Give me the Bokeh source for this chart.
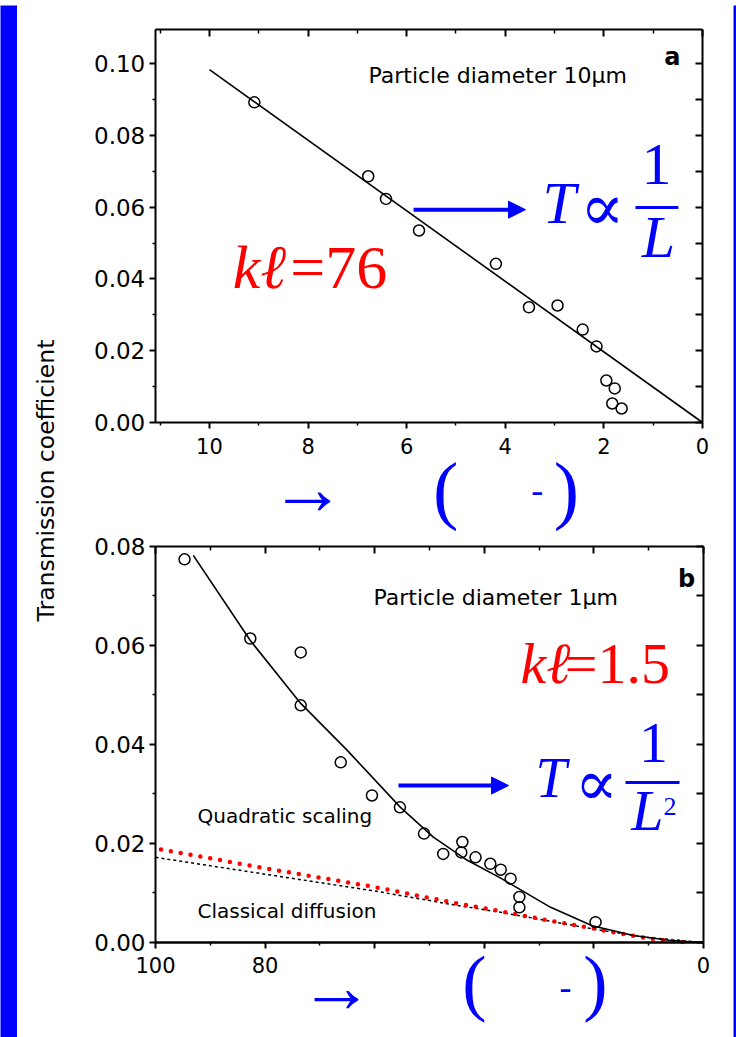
import math

from bokeh.plotting import figure
from bokeh.models import (Range1d, LinearAxis, FixedTicker, NumeralTickFormatter,
                          Label, Arrow, NormalHead)
from bokeh.layouts import row, column
from bokeh.embed import file_html
from bokeh.resources import INLINE

BLUE = "#0000ff"
RED = "#ff0000"
SANS = "DejaVu Sans"
SERIF = "Liberation Serif"
MATH = "DejaVu Serif"

# ---- panel (a): particle diameter 10 um ----
a_x = [9.09, 6.78, 6.42, 5.75, 4.19, 3.52, 2.94, 2.43, 2.15, 1.95, 1.78, 1.83, 1.64]
a_T = [0.0892, 0.0686, 0.0623, 0.0535, 0.0442, 0.0321, 0.0326, 0.0259, 0.0212,
       0.0117, 0.0095, 0.0053, 0.0039]
a_fit_x = [10.0, 0.0]
a_fit_T = [0.0983, 0.0]

a_xticks = [0, 2, 4, 6, 8, 10]
a_xminor = [1, 3, 5, 7, 9, 11]
a_yticks = [0.0, 0.02, 0.04, 0.06, 0.08, 0.10]
a_yminor = [0.01, 0.03, 0.05, 0.07, 0.09]
a_yright = [0.0, 0.01, 0.02, 0.03, 0.04, 0.05, 0.06, 0.07, 0.08, 0.09, 0.10]
a_xmax, a_ymax = 11.1, 0.1095

# ---- panel (b): particle diameter 1 um ----
b_x = [94.7, 82.7, 73.5, 73.5, 66.2, 60.5, 55.4, 51.0, 47.5, 44.0, 44.2, 41.6,
       38.9, 37.0, 35.2, 33.6, 33.6, 19.7]
b_T = [0.0774, 0.0614, 0.0586, 0.0479, 0.0364, 0.0297, 0.0273, 0.0220, 0.0179,
       0.0203, 0.0182, 0.0172, 0.0159, 0.0147, 0.0129, 0.0092, 0.0071, 0.0041]
b_fit_x = [93.1, 82.7, 73.5, 65.0, 55.3, 49.3, 43.1, 37.0, 27.9, 20.3, 12.8, 6.0, 0.0]
b_fit_T = [0.0782, 0.0610, 0.0483, 0.0388, 0.0273, 0.0213, 0.0166, 0.0130, 0.0071,
           0.0034, 0.0014, 0.0004, 0.0]
# classical diffusion (dashed)
b_diff_x = [100, 80, 60, 45, 37, 28, 20, 10, 0]
b_diff_T = [0.0172, 0.0138, 0.0104, 0.0075, 0.0061, 0.0043, 0.0027, 0.0010, 0.0]
# red dotted guide
b_red_x = [99, 80, 60, 45, 38, 28, 20, 10, 3]
b_red_T = [0.0188, 0.0150, 0.0112, 0.0079, 0.0065, 0.0044, 0.0028, 0.0008, 0.0]

b_xticks_labelled = [0, 80, 100]
b_xticks_plain = [20, 40, 60]
b_xticks = [0, 20, 40, 60, 80, 100]
b_xminor = [10, 30, 50, 70, 90]
b_yticks = [0.0, 0.02, 0.04, 0.06, 0.08]
b_yminor = [0.01, 0.03, 0.05, 0.07]
b_yright = [0.0, 0.01, 0.02, 0.03, 0.04, 0.05, 0.06, 0.07, 0.08]
b_xmax, b_ymax = 100.0, 0.08


def plain(w, h, fill="white"):
    s = figure(width=w, height=h, x_range=Range1d(0, 1), y_range=Range1d(0, 1),
               x_axis_type=None, y_axis_type=None, toolbar_location=None,
               output_backend="svg", min_border=0)
    s.outline_line_color = None
    s.background_fill_color = fill
    s.border_fill_color = fill
    s.grid.visible = False
    return s


def style_axis(ax, inward=False):
    ax.axis_line_width = 2
    ax.major_tick_line_width = 2
    ax.minor_tick_line_width = 1.5
    if inward:
        ax.major_tick_in, ax.major_tick_out = 7, 0
        ax.minor_tick_in, ax.minor_tick_out = 4, 0
        ax.major_label_text_color = None
        ax.major_label_text_font_size = "10px"
        ax.major_label_standoff = 0
    else:
        ax.major_tick_in, ax.major_tick_out = 0, 6
        ax.minor_tick_in, ax.minor_tick_out = 0, 3
        ax.major_label_text_font = SANS
        ax.major_label_text_color = "black"


def panel(h, xr, yr, xmax, ymax, xt, xm, yt, ym, top_t, right_t):
    # the frame fills the canvas; the four axes are pinned to the data box
    p = figure(width=663, height=h, x_range=Range1d(*xr), y_range=Range1d(*yr),
               output_backend="svg", toolbar_location=None, min_border=0)
    p.grid.visible = False
    p.outline_line_color = None
    p.background_fill_color = "white"
    p.border_fill_color = "white"

    xa, ya = p.xaxis[0], p.yaxis[0]
    xa.ticker = FixedTicker(ticks=xt, minor_ticks=xm)
    xa.fixed_location = 0
    xa.bounds = (0, xmax)
    ya.ticker = FixedTicker(ticks=yt, minor_ticks=ym)
    ya.formatter = NumeralTickFormatter(format="0.00")
    ya.fixed_location = xmax
    ya.bounds = (0, ymax)
    style_axis(xa)
    style_axis(ya)
    xa.major_label_text_font_size = "21px"
    ya.major_label_text_font_size = "23px"
    ya.major_label_standoff = 4

    up = LinearAxis(ticker=FixedTicker(ticks=top_t, minor_ticks=xm),
                    fixed_location=ymax, bounds=(0, xmax))
    rt = LinearAxis(ticker=FixedTicker(ticks=right_t),
                    fixed_location=0, bounds=(0, ymax))
    style_axis(up, inward=True)
    style_axis(rt, inward=True)
    p.add_layout(up, "above")
    p.add_layout(rt, "right")
    return p, xa


def note(p, x, y, text, size, color="black", font=SERIF, style="normal",
         align="left", baseline="alphabetic", angle=0.0):
    p.add_layout(Label(x=x, y=y, text=text, text_font=font,
                       text_font_size=f"{size}px", text_font_style=style,
                       text_color=color, text_align=align,
                       text_baseline=baseline, angle=angle))


def arrow(p, x0, x1, y):
    p.add_layout(Arrow(end=NormalHead(size=17, fill_color=BLUE, line_color=BLUE),
                       x_start=x0, y_start=y, x_end=x1, y_end=y,
                       line_color=BLUE, line_width=4))


def bar(p, x0, x1, y):
    p.add_layout(Arrow(start=None, end=None, x_start=x0, y_start=y,
                       x_end=x1, y_end=y, line_color=BLUE, line_width=3))


# ---------------- panel (a) ----------------
pa, pa_x = panel(530, (12.819, -0.629), (-0.03148, 0.11618), a_xmax, a_ymax,
                 a_xticks, a_xminor, a_yticks, a_yminor, a_xticks, a_yright)
pa_x.major_label_standoff = 9
pa.line(a_fit_x, a_fit_T, line_color="black", line_width=1.6)
pa.scatter(a_x, a_T, marker="circle", size=11, fill_color=None,
           line_color="black", line_width=1.5)

note(pa, 6.775, 0.0968, "Particle diameter 10\u03bcm", 22, font=SANS)
note(pa, 0.61, 0.1017, "a", 24, font=SANS, style="bold", align="center",
     baseline="middle")
note(pa, 9.53, 0.0433, "k\u2113", 62, RED, style="italic")
note(pa, 8.36, 0.0433, "=76", 62, RED)
arrow(pa, 5.86, 3.59, 0.0593)
note(pa, 3.245, 0.0612, "T", 60, BLUE, style="italic")
note(pa, 2.03, 0.0599, "\u221d", 66, BLUE, font=MATH, align="center",
     baseline="middle")
note(pa, 0.933, 0.0718, "1", 60, BLUE, align="center")
bar(pa, 1.36, 0.49, 0.0599)
note(pa, 0.892, 0.0517, "L", 60, BLUE, style="italic", align="center")
# unit row below the axis
note(pa, 8.01, -0.01836, "\u2192", 76, BLUE, align="center", baseline="middle")
note(pa, 5.21, -0.0186, "(", 76, BLUE, align="center")
note(pa, 3.35, -0.0187, "-", 36, BLUE, align="center", baseline="middle")
note(pa, 2.76, -0.0186, ")", 76, BLUE, align="center")

# ---------------- panel (b) ----------------
pb, pb_x = panel(502, (115.51, -5.474), (-0.01919, 0.082214), b_xmax, b_ymax,
                 b_xticks_labelled, b_xminor, b_yticks, b_yminor,
                 b_xticks, b_yright)
pb_x.major_label_standoff = 8
# remaining major ticks along the bottom axis, without labels
pb_x2 = LinearAxis(ticker=FixedTicker(ticks=b_xticks_plain), fixed_location=0,
                   bounds=(0, b_xmax))
style_axis(pb_x2)
pb_x2.major_label_text_color = None
pb_x2.major_label_text_font_size = "10px"
pb.add_layout(pb_x2, "below")

pb.line(b_diff_x, b_diff_T, line_color="black", line_width=1.5, line_dash="3 3")
pb.line(b_red_x, b_red_T, line_color=RED, line_width=4.5, line_dash="0 10",
        line_cap="round")
pb.line(b_fit_x, b_fit_T, line_color="black", line_width=1.6)
pb.scatter(b_x, b_T, marker="circle", size=11, fill_color=None,
           line_color="black", line_width=1.5)

note(pb, 60.22, 0.0696, "Particle diameter 1\u03bcm", 22, font=SANS)
note(pb, 3.10, 0.0735, "b", 24, font=SANS, style="bold", align="center",
     baseline="middle")
note(pb, 92.34, 0.0256, "Quadratic scaling", 20, font=SANS)
note(pb, 92.34, 0.0064, "Classical diffusion", 20, font=SANS)
note(pb, 33.39, 0.0564, "k\u2113", 58, RED, style="italic")
note(pb, 25.3, 0.0564, "=1.5", 58, RED)
arrow(pb, 55.66, 35.58, 0.0317)
note(pb, 30.66, 0.0332, "T", 56, BLUE, style="italic")
note(pb, 19.56, 0.0323, "\u221d", 64, BLUE, font=MATH, align="center",
     baseline="middle")
note(pb, 9.12, 0.0404, "1", 58, BLUE, align="center")
bar(pb, 14.23, 4.38, 0.0323)
note(pb, 10.22, 0.0267, "L", 58, BLUE, style="italic", align="center")
note(pb, 7.30, 0.0275, "2", 26, BLUE)
# unit row below the axis
note(pb, 66.97, -0.00908, "\u2192", 74, BLUE, align="center", baseline="middle")
note(pb, 41.79, -0.0080, "(", 73, BLUE, align="center")
note(pb, 25.18, -0.0089, "-", 36, BLUE, align="center", baseline="middle")
note(pb, 19.71, -0.0080, ")", 73, BLUE, align="center")

# ---------------- shared y-axis title ----------------
lab = plain(53, 1032)
note(lab, 0.547, 0.5397, "Transmission coefficient", 23.5, font=SANS,
     align="center", baseline="middle", angle=math.pi / 2)

layout = column(plain(736, 5, fill=BLUE),
                row(plain(17, 1032, fill=BLUE), lab,
                    column(pa, pb),
                    plain(3, 1032, fill=BLUE)))

open("out.html", "w").write(file_html(layout, INLINE))
